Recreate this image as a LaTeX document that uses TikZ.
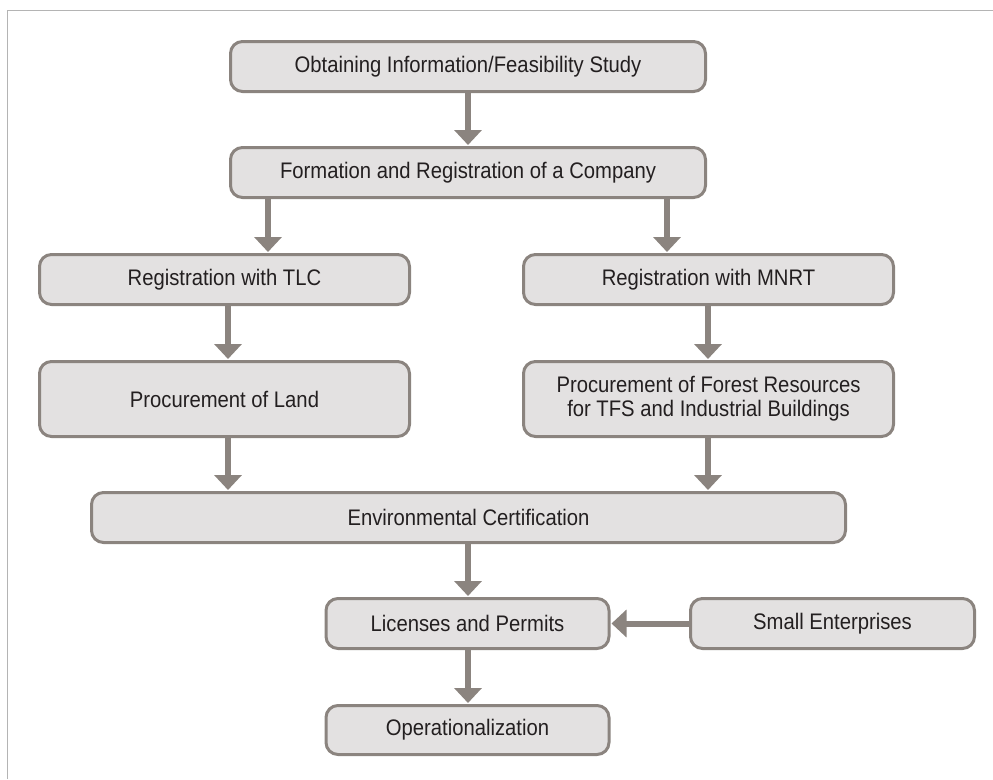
\documentclass[tikz,border=0pt]{standalone}
\usepackage{fontspec}
\setmainfont{Liberation Sans}[FakeStretch=0.9]
\usetikzlibrary{arrows.meta}
\definecolor{edgegray}{HTML}{8B847F}
\definecolor{boxfill}{HTML}{E3E1E1}
\definecolor{framegray}{HTML}{B4B4B4}
\definecolor{inktext}{HTML}{231F20}
\tikzset{
  stepbox/.style={draw=edgegray, line width=3pt, fill=boxfill, rounded corners=12pt,
    inner sep=0pt, outer sep=0pt, text=inktext, align=center,
    font=\fontsize{22.5}{24}\selectfont},
  flow/.style={draw=edgegray, line width=6pt, shorten >=2.5pt,
    -{Triangle[width=27pt,length=15pt]}}
}
\begin{document}
\begin{tikzpicture}[x=1pt,y=-1pt]
\useasboundingbox (0,0) rectangle (993,779);
% outer frame (top and left edges only)
\draw[framegray, line width=1.6pt] (7.5,779) -- (7.5,10.5) -- (993,10.5);

% process steps
\node[stepbox, minimum width=475pt, minimum height=50pt] (info) at (468,66.5) {Obtaining Information/Feasibility Study};
\node[stepbox, minimum width=475pt, minimum height=50pt] (form) at (468,172.5) {Formation and Registration of a Company};
\node[stepbox, minimum width=370pt, minimum height=50pt] (tlc) at (224.5,279.5) {Registration with TLC};
\node[stepbox, minimum width=370pt, minimum height=50pt] (mnrt) at (708.5,279.5) {Registration with MNRT};
\node[stepbox, minimum width=370pt, minimum height=75pt] (land) at (224.5,399) {Procurement of Land};
\node[stepbox, minimum width=370pt, minimum height=75pt] (forest) at (708.5,399) {Procurement of Forest Resources\\for TFS and Industrial Buildings};
\node[stepbox, minimum width=754pt, minimum height=50pt] (env) at (468.5,517.5) {Environmental Certification};
\node[stepbox, minimum width=283pt, minimum height=50pt] (lic) at (467.5,623.5) {Licenses and Permits};
\node[stepbox, minimum width=284pt, minimum height=50pt] (small) at (832.5,623.5) {Small Enterprises};
\node[stepbox, minimum width=283pt, minimum height=49pt] (oper) at (467.5,730) {Operationalization};

% arrow columns
\coordinate (cmid) at (468,0);
\coordinate (cleftA) at (268,0);
\coordinate (crightA) at (667,0);
\coordinate (cleftB) at (228,0);
\coordinate (crightB) at (708,0);

% connectors
\draw[flow] (info.south -| cmid) -- (form.north -| cmid);
\draw[flow] (form.south -| cleftA) -- (tlc.north -| cleftA);
\draw[flow] (form.south -| crightA) -- (mnrt.north -| crightA);
\draw[flow] (tlc.south -| cleftB) -- (land.north -| cleftB);
\draw[flow] (mnrt.south -| crightB) -- (forest.north -| crightB);
\draw[flow] (land.south -| cleftB) -- (env.north -| cleftB);
\draw[flow] (forest.south -| crightB) -- (env.north -| crightB);
\draw[flow] (env.south -| cmid) -- (lic.north -| cmid);
\draw[flow] (lic.south -| cmid) -- (oper.north -| cmid);
\draw[flow] (small.west) -- (lic.east);
\end{tikzpicture}
\end{document}
